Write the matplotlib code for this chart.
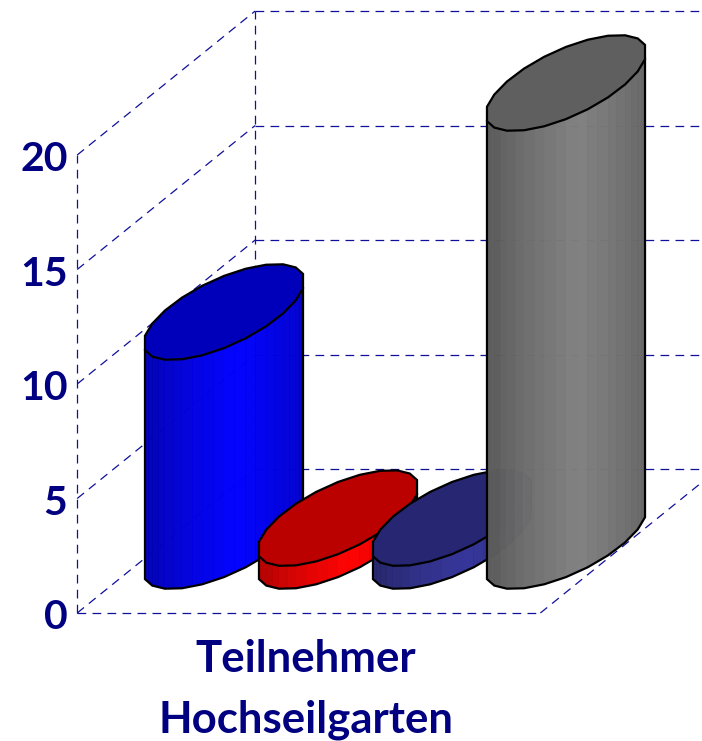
import numpy as np
import matplotlib
matplotlib.use("Agg")
import matplotlib.pyplot as plt

# data
values = [10, 1, 1, 20]
side_colors = ["#0000ff", "#ff0000", "#333399", "#808080"]
top_colors = ["#0000bb", "#bb0000", "#262673", "#5f5f5f"]
y_ticks = [0, 5, 10, 15, 20]
label_lines = ["Teilnehmer", "Hochseilgarten"]

NAVY = "#000080"
# 1 unit of depth in data coords (oblique projection of the back wall)
depth_x = 178 / 114
depth_y = 144 / 22.9
half_w = 59.5 / 114
skew_x = 52 / 114
half_d = 47 / 22.9
end_step = 0.40   # angle of the flat edge at each side extreme
arc_steps = 10

plt.rcParams['font.family'] = ['Lato', 'DejaVu Sans']

fig = plt.figure(figsize=(7.02, 7.41), dpi=100)
ax = fig.add_axes([0, 0, 1, 1])
ax.set_xlim(-135 / 114, 567 / 114)
ax.set_ylim(-128 / 22.9, 613 / 22.9)
ax.axis('off')

x_left, x_right = -0.507, 3.556
grid = dict(color="#10109a", lw=0.9, ls=(0, (7, 5)), zorder=1)

# walls and floor
ymax = y_ticks[-1]
ax.plot([x_left, x_left], [0, ymax], **grid)
ax.plot([x_left + depth_x] * 2, [depth_y, ymax + depth_y], **grid)
for v in y_ticks:
    ax.plot([x_left, x_left + depth_x], [v, v + depth_y], **grid)
    ax.plot([x_left + depth_x, x_right + depth_x], [v + depth_y, v + depth_y], **grid)
ax.plot([x_left, x_right], [0, 0], **grid)
ax.plot([x_right, x_right + depth_x], [0, depth_y], **grid)

# y labels
for v in y_ticks:
    ax.text(x_left - 0.085, v - 0.2, str(v), color=NAVY, fontsize=29.5, fontweight='bold',
            ha='right', va='center')


def cap_angles():
    # upper arc, flat edge, lower arc, flat edge
    t0 = np.arctan2(skew_x, half_w)
    upper = np.linspace(t0 + end_step / 2, t0 + np.pi - end_step / 2, arc_steps + 1)
    lower = np.linspace(t0 + np.pi + end_step / 2, t0 + 2 * np.pi - end_step / 2, arc_steps + 1)
    return upper, lower


def cap_xy(t, cx, cy):
    r = 1 / np.cos(end_step / 2)
    return (cx + r * (half_w * np.cos(t) + skew_x * np.sin(t)),
            cy + r * half_d * np.sin(t))


def shade(col, f):
    rgb = np.array(matplotlib.colors.to_rgb(col))
    return tuple(rgb * f)


upper_t, lower_t = cap_angles()

for i, v in enumerate(values):
    z = 10 + i * 3
    cx = i + depth_x / 2
    base = depth_y / 2
    lx, ly = cap_xy(lower_t, cx, base)
    ux, uy = cap_xy(upper_t, cx, base)
    xmin, xmax = lx.min(), lx.max()

    for j in range(len(lx) - 1):
        # two strips per edge, brightest just right of centre
        for a, b in [(0, 0.5), (0.5, 1)]:
            xa = lx[j] + a * (lx[j + 1] - lx[j])
            xb = lx[j] + b * (lx[j + 1] - lx[j])
            ya = ly[j] + a * (ly[j + 1] - ly[j])
            yb = ly[j] + b * (ly[j + 1] - ly[j])
            pos = ((xa + xb) / 2 - xmin) / (xmax - xmin)
            f = 0.72 + 0.28 * np.clip(1 - abs(pos - 0.58) / 0.5, 0, 1) ** 0.7
            ax.fill([xa, xb, xb, xa], [ya, yb, yb + v, ya + v], color=shade(side_colors[i], f),
                    lw=0, alpha=0.985, antialiased=False, zorder=z)
        ax.plot([lx[j + 1]] * 2, [ly[j + 1], ly[j + 1] + v], color='white', lw=0.7, alpha=0.22, zorder=z)

    ax.plot(np.r_[lx[0], lx, lx[-1]], np.r_[ly[0] + v, ly, ly[-1] + v], color='black', lw=1.6,
            solid_joinstyle='miter', zorder=z + 1)
    ax.fill(np.r_[ux, lx], np.r_[uy, ly] + v, facecolor=top_colors[i], edgecolor='black', lw=1.6, zorder=z + 2)

# category label
mid = np.mean(range(len(values)))
ax.text(mid, -2.58, label_lines[0], color=NAVY, fontsize=31.5, fontweight='bold', ha='center', va='baseline')
ax.text(mid, -5.2, label_lines[1], color=NAVY, fontsize=31.5, fontweight='bold', ha='center', va='baseline')

fig.savefig("out.png", dpi=100)
